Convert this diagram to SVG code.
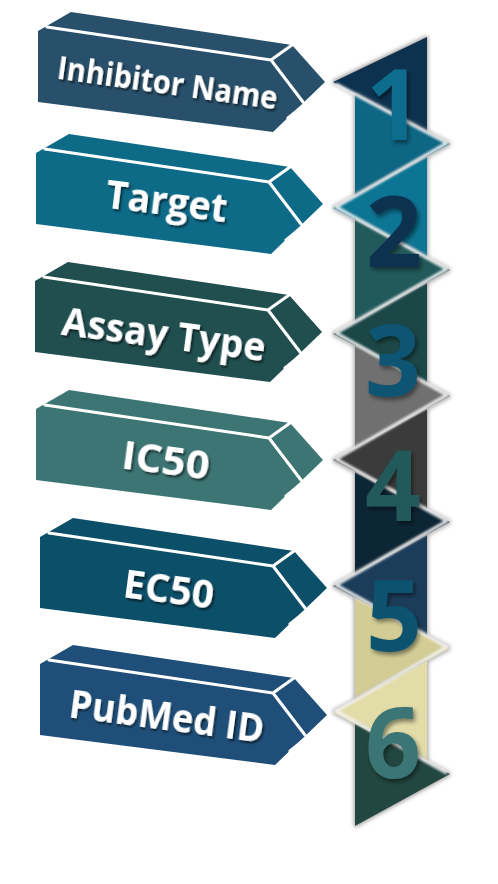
<svg xmlns="http://www.w3.org/2000/svg" xmlns:xlink="http://www.w3.org/1999/xlink" width="498" height="884" viewBox="0 0 498 884">
<style>
.edge{fill:none;stroke:#ffffff;stroke-width:3;stroke-linejoin:round;stroke-linecap:round}
.lbl{font-family:"Open Sans","Liberation Sans",sans-serif;font-weight:700;fill:#ffffff;text-anchor:middle}
.num{font-family:"Open Sans","Liberation Sans",sans-serif;font-weight:700;font-size:98px;text-anchor:middle}
.seam{fill:none;stroke:#f2f2f2;stroke-width:3.5;stroke-linejoin:round;opacity:0.9}
</style>
<defs>
<path id="blkShape" d="M-287,-51 L-254,-70 L-33,-37 L0,0 L-52,50 L-287,20 Z"/>
<path id="blkLines" d="M-278,-55 L-54,-22 L-33,-37 M-54,-22 L-22,20 M-37,36 L-12,16"/>
<filter id="tshadow" x="-20%" y="-30%" width="140%" height="160%">
<feGaussianBlur in="SourceAlpha" stdDeviation="1.2"/>
<feOffset dx="1.5" dy="2" result="b"/>
<feFlood flood-color="#000000" flood-opacity="0.6"/>
<feComposite in2="b" operator="in"/>
<feMerge><feMergeNode/><feMergeNode in="SourceGraphic"/></feMerge>
</filter>
<filter id="nshadow" x="-30%" y="-30%" width="160%" height="160%">
<feGaussianBlur in="SourceAlpha" stdDeviation="2"/>
<feOffset dx="2" dy="3" result="b"/>
<feFlood flood-color="#000000" flood-opacity="0.45"/>
<feComposite in2="b" operator="in"/>
<feMerge><feMergeNode/><feMergeNode in="SourceGraphic"/></feMerge>
</filter>
<filter id="glow" x="-30%" y="-30%" width="160%" height="160%">
<feMorphology in="SourceAlpha" operator="dilate" radius="1" result="d"/>
<feGaussianBlur in="d" stdDeviation="2.2" result="g"/>
<feFlood flood-color="#8a8a8a" flood-opacity="0.85"/>
<feComposite in2="g" operator="in"/>
<feMerge><feMergeNode/><feMergeNode in="SourceGraphic"/></feMerge>
</filter>
<filter id="blur1"><feGaussianBlur stdDeviation="1.1"/></filter>
</defs>
<rect width="498" height="884" fill="#ffffff"/>

<g id="block-inhibitor-name">
<use xlink:href="#blkShape" transform="translate(325,82)" fill="#28506B"/>
<use xlink:href="#blkLines" class="edge" transform="translate(325,82)"/>
<text class="lbl" x="166" y="94" font-size="32" textLength="222" lengthAdjust="spacingAndGlyphs" transform="rotate(8 166 94)" filter="url(#tshadow)">Inhibitor Name</text>
</g>
<g id="block-target">
<use xlink:href="#blkShape" transform="translate(323,204)" fill="#0E6B88"/>
<use xlink:href="#blkLines" class="edge" transform="translate(323,204)"/>
<text class="lbl" x="165" y="215" font-size="40" textLength="122" lengthAdjust="spacingAndGlyphs" transform="rotate(7 165 215)" filter="url(#tshadow)">Target</text>
</g>
<g id="block-assay-type">
<use xlink:href="#blkShape" transform="translate(322,332)" fill="#214F50"/>
<use xlink:href="#blkLines" class="edge" transform="translate(322,332)"/>
<text class="lbl" x="162" y="348" font-size="39" textLength="205" lengthAdjust="spacingAndGlyphs" transform="rotate(7.5 162 348)" filter="url(#tshadow)">Assay Type</text>
</g>
<g id="block-ic50">
<use xlink:href="#blkShape" transform="translate(323,460)" fill="#3D7574"/>
<use xlink:href="#blkLines" class="edge" transform="translate(323,460)"/>
<text class="lbl" x="164" y="474" font-size="40" textLength="88" lengthAdjust="spacingAndGlyphs" transform="rotate(7.5 164 474)" filter="url(#tshadow)">IC50</text>
</g>
<g id="block-ec50">
<use xlink:href="#blkShape" transform="translate(327,588)" fill="#0C4F68"/>
<use xlink:href="#blkLines" class="edge" transform="translate(327,588)"/>
<text class="lbl" x="167" y="603" font-size="40" textLength="91" lengthAdjust="spacingAndGlyphs" transform="rotate(7.5 167 603)" filter="url(#tshadow)">EC50</text>
</g>
<g id="block-pubmed-id">
<use xlink:href="#blkShape" transform="translate(327,715)" fill="#1F4F79"/>
<use xlink:href="#blkLines" class="edge" transform="translate(327,715)"/>
<text class="lbl" x="165" y="730" font-size="39" textLength="196" lengthAdjust="spacingAndGlyphs" transform="rotate(7.5 165 730)" filter="url(#tshadow)">PubMed ID</text>
</g>

<g id="connectors"/>

<g id="column">
<g id="pieces">
<polygon points="333,82 427,37 427,132" fill="#0C3350" filter="url(#glow)"/>
<polygon points="355,94 450,144 355,196" fill="#0F6684" filter="url(#glow)"/>
<polygon points="333,208 427,157 427,258" fill="#107594" filter="url(#glow)"/>
<polygon points="355,220 450,270 355,322" fill="#245A5B" filter="url(#glow)"/>
<polygon points="333,334 427,283 427,384" fill="#1E4747" filter="url(#glow)"/>
<polygon points="355,346 450,396 355,448" fill="#707070" filter="url(#glow)"/>
<polygon points="333,460 427,409 427,510" fill="#3A3A3A" filter="url(#glow)"/>
<polygon points="355,472 450,522 355,574" fill="#0A2535" filter="url(#glow)"/>
<polygon points="333,586 427,535 427,636" fill="#1D3D5A" filter="url(#glow)"/>
<polygon points="355,598 450,648 355,700" fill="#D3CD95" filter="url(#glow)"/>
<polygon points="333,712 427,661 427,762" fill="#E2DCA8" filter="url(#glow)"/>
<polygon points="355,724 450,774 355,826" fill="#24463F" filter="url(#glow)"/>
</g>
<polyline class="seam" filter="url(#blur1)" points="336,84 447,143 336,207 447,269 336,333 447,395 336,459 447,521 336,585 447,647 336,711 447,773"/>
</g>

<g id="item-1"><text class="num" x="394" y="140" fill="#0F6D8C" filter="url(#nshadow)">1</text></g>
<g id="item-2"><text class="num" x="394" y="267" fill="#0B3350" filter="url(#nshadow)">2</text></g>
<g id="item-3"><text class="num" x="393" y="396" fill="#0C5472" filter="url(#nshadow)">3</text></g>
<g id="item-4"><text class="num" x="393" y="521" fill="#245A5B" filter="url(#nshadow)">4</text></g>
<g id="item-5"><text class="num" x="394" y="651" fill="#0B5270" filter="url(#nshadow)">5</text></g>
<g id="item-6"><text class="num" x="393" y="778" fill="#3B7474" filter="url(#nshadow)">6</text></g>
</svg>
